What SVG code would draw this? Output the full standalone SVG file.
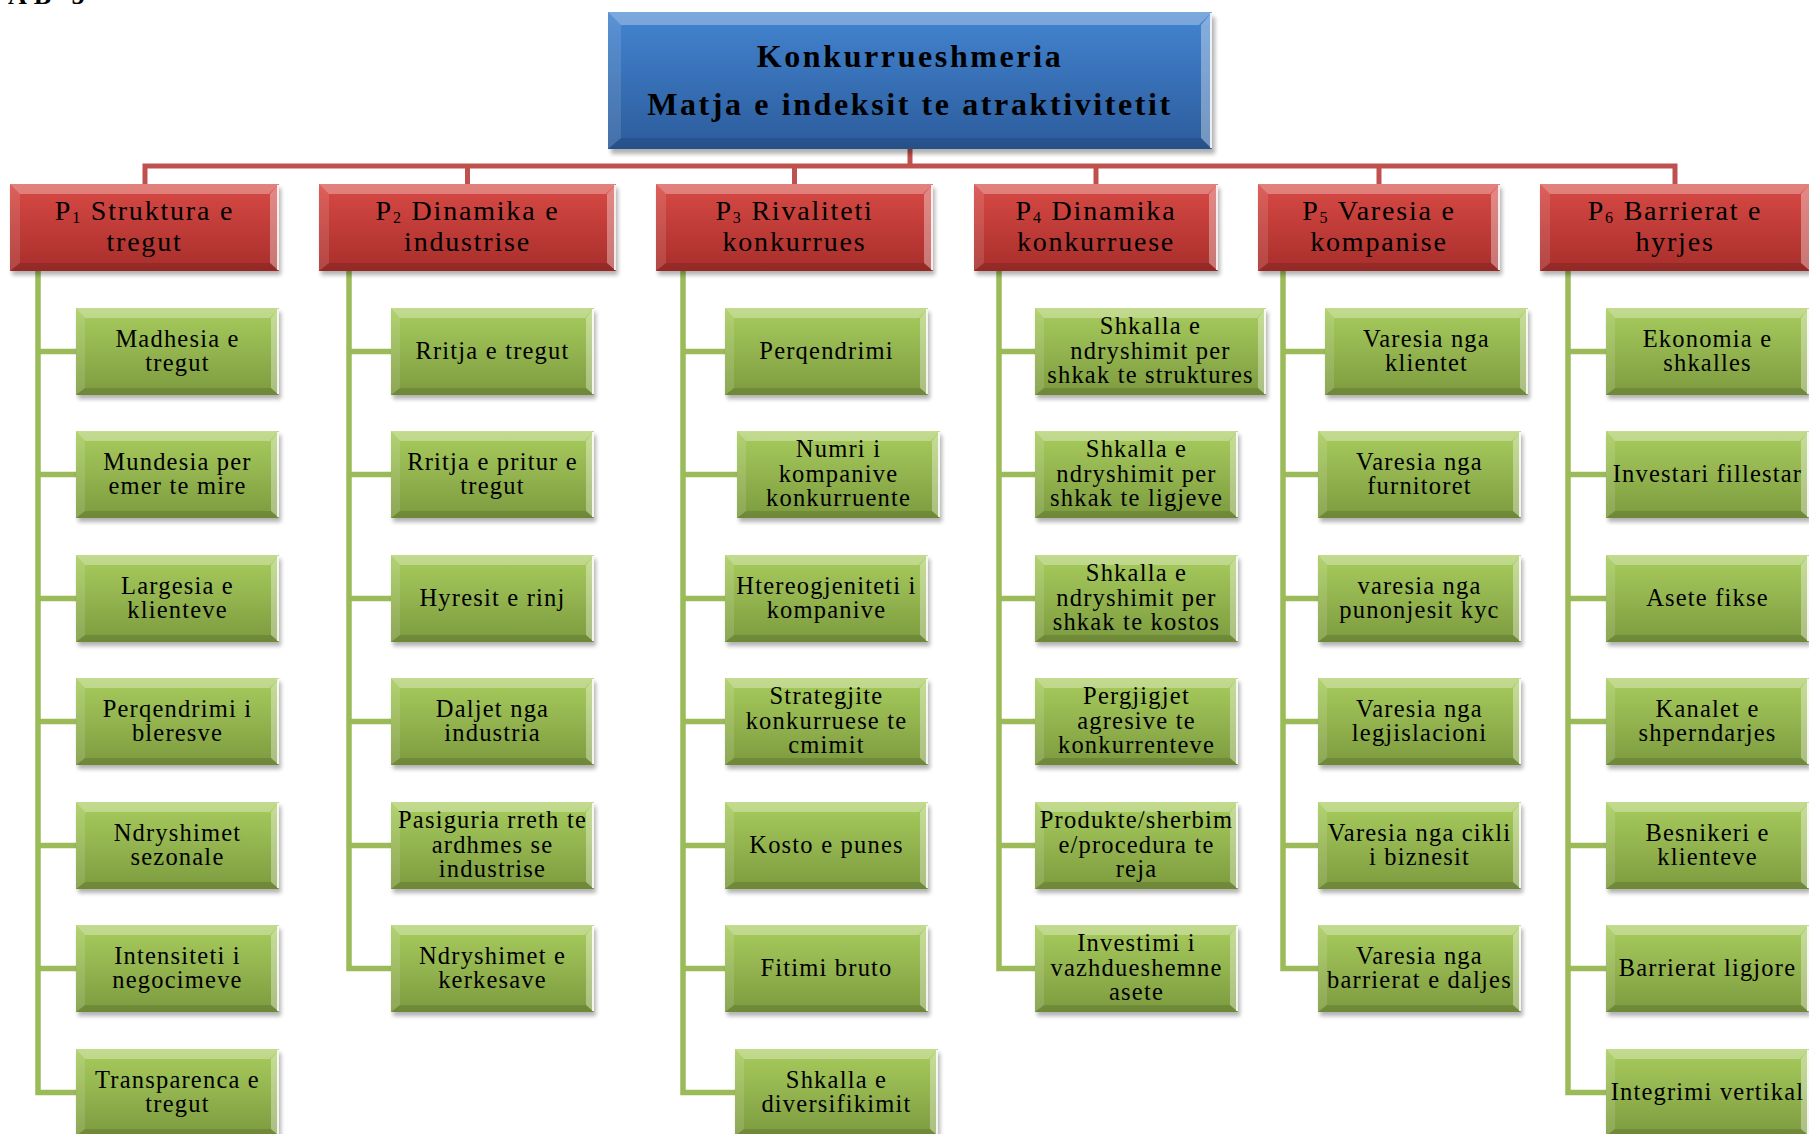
<svg xmlns="http://www.w3.org/2000/svg" xmlns:xlink="http://www.w3.org/1999/xlink" width="1809" height="1134" viewBox="0 0 1809 1134">
<defs>
<style>
.gt{font-family:"Liberation Serif","Times New Roman",serif;font-size:24.5px;letter-spacing:1.2px;text-anchor:middle;fill:#000}
.rt{font-family:"Liberation Serif","Times New Roman",serif;font-size:28px;letter-spacing:1.8px;text-anchor:middle;fill:#000}
.rt .sub{font-size:16px}
.root{font-family:"Liberation Serif","Times New Roman",serif;font-size:32px;font-weight:bold;letter-spacing:2.6px;text-anchor:middle;fill:#000}
.bt{fill:#fff;opacity:.3}
.bl{fill:#fff;opacity:.12}
.br{fill:#fff;opacity:.35}
.bb{fill:#000;opacity:.12}
.hl{stroke:#fff;stroke-width:2;opacity:.85}
.shd{fill:#000;opacity:.3;filter:url(#blur)}
.red{fill:none;stroke:#c0504d;stroke-width:5}
.grn{fill:none;stroke:#9bbb59;stroke-width:5.5}
</style>
<filter id="blur" x="-10%" y="-20%" width="120%" height="140%"><feGaussianBlur stdDeviation="2"/></filter>
<linearGradient id="gG" x1="0" y1="0" x2="0" y2="1"><stop offset="0" stop-color="#a8cc5e"/><stop offset="1" stop-color="#7d9b3f"/></linearGradient>
<linearGradient id="gR" x1="0" y1="0" x2="0" y2="1"><stop offset="0" stop-color="#d84a45"/><stop offset="1" stop-color="#a82e2b"/></linearGradient>
<linearGradient id="gB" x1="0" y1="0" x2="0" y2="1"><stop offset="0" stop-color="#4384d0"/><stop offset="1" stop-color="#2c5c9c"/></linearGradient>
<g id="gb">
<rect class="shd" x="2" y="4" width="203" height="87"/>
<rect x="0" y="0" width="203" height="87" fill="url(#gG)"/>
<polygon class="bt" points="0,0 203,0 194,10 9,10"/>
<polygon class="bl" points="0,0 9,10 9,80 0,87"/>
<polygon class="br" points="203,0 203,87 195,80 195,10"/>
<polygon class="bb" points="0,87 9,80 195,80 203,87"/>
<line class="hl" x1="202" y1="1" x2="202" y2="86"/>
</g>
<g id="gbw">
<rect class="shd" x="2" y="4" width="231" height="87"/>
<rect x="0" y="0" width="231" height="87" fill="url(#gG)"/>
<polygon class="bt" points="0,0 231,0 222,10 9,10"/>
<polygon class="bl" points="0,0 9,10 9,80 0,87"/>
<polygon class="br" points="231,0 231,87 223,80 223,10"/>
<polygon class="bb" points="0,87 9,80 223,80 231,87"/>
<line class="hl" x1="230" y1="1" x2="230" y2="86"/>
</g>
</defs>
<rect x="0" y="0" width="1809" height="1134" fill="#fff"/>
<text x="8" y="4" style="font-family:'Liberation Serif',serif;font-size:26px;font-weight:bold;letter-spacing:7px">AB 5</text>

<g id="connectors">
<path class="red" d="M910 149 V166"/>
<path class="red" d="M145 184 V166 H1675 V184"/>
<path class="red" d="M467.5 166 V184 M794.5 166 V184 M1096 166 V184 M1379 166 V184"/>
<path class="grn" d="M38 271 V1092.5 H76 M38 351.5 H76 M38 474.5 H76 M38 598.5 H76 M38 721.5 H76 M38 845.5 H76 M38 968.5 H76"/>
<path class="grn" d="M349 271 V968.5 H391 M349 351.5 H391 M349 474.5 H391 M349 598.5 H391 M349 721.5 H391 M349 845.5 H391"/>
<path class="grn" d="M683 271 V1092.5 H735 M683 351.5 H725 M683 474.5 H737 M683 598.5 H725 M683 721.5 H725 M683 845.5 H725 M683 968.5 H725"/>
<path class="grn" d="M999 271 V968.5 H1035 M999 351.5 H1035 M999 474.5 H1035 M999 598.5 H1035 M999 721.5 H1035 M999 845.5 H1035"/>
<path class="grn" d="M1283 271 V968.5 H1318 M1283 351.5 H1325 M1283 474.5 H1318 M1283 598.5 H1318 M1283 721.5 H1318 M1283 845.5 H1318"/>
<path class="grn" d="M1568 271 V1092.5 H1606 M1568 351.5 H1606 M1568 474.5 H1606 M1568 598.5 H1606 M1568 721.5 H1606 M1568 845.5 H1606 M1568 968.5 H1606"/>
</g>

<g id="root" transform="translate(608 12)">
<rect class="shd" x="3" y="5" width="604" height="137"/>
<rect x="0" y="0" width="604" height="137" fill="url(#gB)"/>
<polygon class="bt" points="0,0 604,0 591,13 13,13"/>
<polygon class="bl" points="0,0 13,13 13,126 0,137"/>
<polygon class="br" points="604,0 604,137 593,126 593,13"/>
<polygon class="bb" points="0,137 13,126 593,126 604,137"/>
<line class="hl" x1="603" y1="1" x2="603" y2="136"/>
<text class="root" x="302" y="55">Konkurrueshmeria</text>
<text class="root" x="302" y="103">Matja e indeksit te atraktivitetit</text>
</g>

<g id="p1" transform="translate(10 184)">
<rect class="shd" x="2" y="4" width="269" height="87"/>
<rect x="0" y="0" width="269" height="87" fill="url(#gR)"/>
<polygon class="bt" points="0,0 269,0 259,10 10,10"/>
<polygon class="bl" points="0,0 10,10 10,79 0,87"/>
<polygon class="br" points="269,0 269,87 260,79 260,10"/>
<polygon class="bb" points="0,87 10,79 260,79 269,87"/>
<line class="hl" x1="268" y1="1" x2="268" y2="86"/>
<text class="rt" x="134.5" y="36">P<tspan class="sub" baseline-shift="-3">1</tspan> Struktura e</text>
<text class="rt" x="134.5" y="67">tregut</text>
</g>
<g id="p2" transform="translate(319 184)">
<rect class="shd" x="2" y="4" width="297" height="87"/>
<rect x="0" y="0" width="297" height="87" fill="url(#gR)"/>
<polygon class="bt" points="0,0 297,0 287,10 10,10"/>
<polygon class="bl" points="0,0 10,10 10,79 0,87"/>
<polygon class="br" points="297,0 297,87 288,79 288,10"/>
<polygon class="bb" points="0,87 10,79 288,79 297,87"/>
<line class="hl" x1="296" y1="1" x2="296" y2="86"/>
<text class="rt" x="148.5" y="36">P<tspan class="sub" baseline-shift="-3">2</tspan> Dinamika e</text>
<text class="rt" x="148.5" y="67">industrise</text>
</g>
<g id="p3" transform="translate(656 184)">
<rect class="shd" x="2" y="4" width="277" height="87"/>
<rect x="0" y="0" width="277" height="87" fill="url(#gR)"/>
<polygon class="bt" points="0,0 277,0 267,10 10,10"/>
<polygon class="bl" points="0,0 10,10 10,79 0,87"/>
<polygon class="br" points="277,0 277,87 268,79 268,10"/>
<polygon class="bb" points="0,87 10,79 268,79 277,87"/>
<line class="hl" x1="276" y1="1" x2="276" y2="86"/>
<text class="rt" x="138.5" y="36">P<tspan class="sub" baseline-shift="-3">3</tspan> Rivaliteti</text>
<text class="rt" x="138.5" y="67">konkurrues</text>
</g>
<g id="p4" transform="translate(974 184)">
<rect class="shd" x="2" y="4" width="244" height="87"/>
<rect x="0" y="0" width="244" height="87" fill="url(#gR)"/>
<polygon class="bt" points="0,0 244,0 234,10 10,10"/>
<polygon class="bl" points="0,0 10,10 10,79 0,87"/>
<polygon class="br" points="244,0 244,87 235,79 235,10"/>
<polygon class="bb" points="0,87 10,79 235,79 244,87"/>
<line class="hl" x1="243" y1="1" x2="243" y2="86"/>
<text class="rt" x="122" y="36">P<tspan class="sub" baseline-shift="-3">4</tspan> Dinamika</text>
<text class="rt" x="122" y="67">konkurruese</text>
</g>
<g id="p5" transform="translate(1258 184)">
<rect class="shd" x="2" y="4" width="242" height="87"/>
<rect x="0" y="0" width="242" height="87" fill="url(#gR)"/>
<polygon class="bt" points="0,0 242,0 232,10 10,10"/>
<polygon class="bl" points="0,0 10,10 10,79 0,87"/>
<polygon class="br" points="242,0 242,87 233,79 233,10"/>
<polygon class="bb" points="0,87 10,79 233,79 242,87"/>
<line class="hl" x1="241" y1="1" x2="241" y2="86"/>
<text class="rt" x="121" y="36">P<tspan class="sub" baseline-shift="-3">5</tspan> Varesia e</text>
<text class="rt" x="121" y="67">kompanise</text>
</g>
<g id="p6" transform="translate(1540 184)">
<rect class="shd" x="2" y="4" width="270" height="87"/>
<rect x="0" y="0" width="270" height="87" fill="url(#gR)"/>
<polygon class="bt" points="0,0 270,0 260,10 10,10"/>
<polygon class="bl" points="0,0 10,10 10,79 0,87"/>
<polygon class="br" points="270,0 270,87 261,79 261,10"/>
<polygon class="bb" points="0,87 10,79 261,79 270,87"/>
<text class="rt" x="135" y="36">P<tspan class="sub" baseline-shift="-3">6</tspan> Barrierat e</text>
<text class="rt" x="135" y="67">hyrjes</text>
</g>

<!-- P1 children -->
<g id="p1-1"><use xlink:href="#gb" x="76" y="308"/><text class="gt" x="177.5" y="346.5">Madhesia e<tspan x="177.5" dy="24.5">tregut</tspan></text></g>
<g id="p1-2"><use xlink:href="#gb" x="76" y="431"/><text class="gt" x="177.5" y="469.5">Mundesia per<tspan x="177.5" dy="24.5">emer te mire</tspan></text></g>
<g id="p1-3"><use xlink:href="#gb" x="76" y="555"/><text class="gt" x="177.5" y="593.5">Largesia e<tspan x="177.5" dy="24.5">klienteve</tspan></text></g>
<g id="p1-4"><use xlink:href="#gb" x="76" y="678"/><text class="gt" x="177.5" y="716.5">Perqendrimi i<tspan x="177.5" dy="24.5">bleresve</tspan></text></g>
<g id="p1-5"><use xlink:href="#gb" x="76" y="802"/><text class="gt" x="177.5" y="840.5">Ndryshimet<tspan x="177.5" dy="24.5">sezonale</tspan></text></g>
<g id="p1-6"><use xlink:href="#gb" x="76" y="925"/><text class="gt" x="177.5" y="963.5">Intensiteti i<tspan x="177.5" dy="24.5">negocimeve</tspan></text></g>
<g id="p1-7"><use xlink:href="#gb" x="76" y="1049"/><text class="gt" x="177.5" y="1087.5">Transparenca e<tspan x="177.5" dy="24.5">tregut</tspan></text></g>

<!-- P2 children -->
<g id="p2-1"><use xlink:href="#gb" x="391" y="308"/><text class="gt" x="492.5" y="358.5">Rritja e tregut</text></g>
<g id="p2-2"><use xlink:href="#gb" x="391" y="431"/><text class="gt" x="492.5" y="469.5">Rritja e pritur e<tspan x="492.5" dy="24.5">tregut</tspan></text></g>
<g id="p2-3"><use xlink:href="#gb" x="391" y="555"/><text class="gt" x="492.5" y="605.5">Hyresit e rinj</text></g>
<g id="p2-4"><use xlink:href="#gb" x="391" y="678"/><text class="gt" x="492.5" y="716.5">Daljet nga<tspan x="492.5" dy="24.5">industria</tspan></text></g>
<g id="p2-5"><use xlink:href="#gb" x="391" y="802"/><text class="gt" x="492.5" y="828">Pasiguria rreth te<tspan x="492.5" dy="24.5">ardhmes se</tspan><tspan x="492.5" dy="24.5">industrise</tspan></text></g>
<g id="p2-6"><use xlink:href="#gb" x="391" y="925"/><text class="gt" x="492.5" y="963.5">Ndryshimet e<tspan x="492.5" dy="24.5">kerkesave</tspan></text></g>

<!-- P3 children -->
<g id="p3-1"><use xlink:href="#gb" x="725" y="308"/><text class="gt" x="826.5" y="358.5">Perqendrimi</text></g>
<g id="p3-2"><use xlink:href="#gb" x="737" y="431"/><text class="gt" x="838.5" y="457">Numri i<tspan x="838.5" dy="24.5">kompanive</tspan><tspan x="838.5" dy="24.5">konkurruente</tspan></text></g>
<g id="p3-3"><use xlink:href="#gb" x="725" y="555"/><text class="gt" x="826.5" y="593.5">Htereogjeniteti i<tspan x="826.5" dy="24.5">kompanive</tspan></text></g>
<g id="p3-4"><use xlink:href="#gb" x="725" y="678"/><text class="gt" x="826.5" y="704">Strategjite<tspan x="826.5" dy="24.5">konkurruese te</tspan><tspan x="826.5" dy="24.5">cmimit</tspan></text></g>
<g id="p3-5"><use xlink:href="#gb" x="725" y="802"/><text class="gt" x="826.5" y="852.5">Kosto e punes</text></g>
<g id="p3-6"><use xlink:href="#gb" x="725" y="925"/><text class="gt" x="826.5" y="975.5">Fitimi bruto</text></g>
<g id="p3-7"><use xlink:href="#gb" x="735" y="1049"/><text class="gt" x="836.5" y="1087.5">Shkalla e<tspan x="836.5" dy="24.5">diversifikimit</tspan></text></g>

<!-- P4 children -->
<g id="p4-1"><use xlink:href="#gbw" x="1035" y="308"/><text class="gt" x="1150.5" y="334">Shkalla e<tspan x="1150.5" dy="24.5">ndryshimit  per</tspan><tspan x="1150.5" dy="24.5">shkak te struktures</tspan></text></g>
<g id="p4-2"><use xlink:href="#gb" x="1035" y="431"/><text class="gt" x="1136.5" y="457">Shkalla e<tspan x="1136.5" dy="24.5">ndryshimit per</tspan><tspan x="1136.5" dy="24.5">shkak te ligjeve</tspan></text></g>
<g id="p4-3"><use xlink:href="#gb" x="1035" y="555"/><text class="gt" x="1136.5" y="581">Shkalla e<tspan x="1136.5" dy="24.5">ndryshimit per</tspan><tspan x="1136.5" dy="24.5">shkak te kostos</tspan></text></g>
<g id="p4-4"><use xlink:href="#gb" x="1035" y="678"/><text class="gt" x="1136.5" y="704">Pergjigjet<tspan x="1136.5" dy="24.5">agresive te</tspan><tspan x="1136.5" dy="24.5">konkurrenteve</tspan></text></g>
<g id="p4-5"><use xlink:href="#gb" x="1035" y="802"/><text class="gt" x="1136.5" y="828">Produkte/sherbim<tspan x="1136.5" dy="24.5">e/procedura te</tspan><tspan x="1136.5" dy="24.5">reja</tspan></text></g>
<g id="p4-6"><use xlink:href="#gb" x="1035" y="925"/><text class="gt" x="1136.5" y="951">Investimi i<tspan x="1136.5" dy="24.5">vazhdueshemne</tspan><tspan x="1136.5" dy="24.5">asete</tspan></text></g>

<!-- P5 children -->
<g id="p5-1"><use xlink:href="#gb" x="1325" y="308"/><text class="gt" x="1426.5" y="346.5">Varesia nga<tspan x="1426.5" dy="24.5">klientet</tspan></text></g>
<g id="p5-2"><use xlink:href="#gb" x="1318" y="431"/><text class="gt" x="1419.5" y="469.5">Varesia nga<tspan x="1419.5" dy="24.5">furnitoret</tspan></text></g>
<g id="p5-3"><use xlink:href="#gb" x="1318" y="555"/><text class="gt" x="1419.5" y="593.5">varesia nga<tspan x="1419.5" dy="24.5">punonjesit kyc</tspan></text></g>
<g id="p5-4"><use xlink:href="#gb" x="1318" y="678"/><text class="gt" x="1419.5" y="716.5">Varesia nga<tspan x="1419.5" dy="24.5">legjislacioni</tspan></text></g>
<g id="p5-5"><use xlink:href="#gb" x="1318" y="802"/><text class="gt" x="1419.5" y="840.5">Varesia nga cikli<tspan x="1419.5" dy="24.5">i biznesit</tspan></text></g>
<g id="p5-6"><use xlink:href="#gb" x="1318" y="925"/><text class="gt" x="1419.5" y="963.5">Varesia  nga<tspan x="1419.5" dy="24.5">barrierat e daljes</tspan></text></g>

<!-- P6 children -->
<g id="p6-1"><use xlink:href="#gb" x="1606" y="308"/><text class="gt" x="1707.5" y="346.5">Ekonomia e<tspan x="1707.5" dy="24.5">shkalles</tspan></text></g>
<g id="p6-2"><use xlink:href="#gb" x="1606" y="431"/><text class="gt" x="1707.5" y="481.5">Investari fillestar</text></g>
<g id="p6-3"><use xlink:href="#gb" x="1606" y="555"/><text class="gt" x="1707.5" y="605.5">Asete fikse</text></g>
<g id="p6-4"><use xlink:href="#gb" x="1606" y="678"/><text class="gt" x="1707.5" y="716.5">Kanalet e<tspan x="1707.5" dy="24.5">shperndarjes</tspan></text></g>
<g id="p6-5"><use xlink:href="#gb" x="1606" y="802"/><text class="gt" x="1707.5" y="840.5">Besnikeri e<tspan x="1707.5" dy="24.5">klienteve</tspan></text></g>
<g id="p6-6"><use xlink:href="#gb" x="1606" y="925"/><text class="gt" x="1707.5" y="975.5">Barrierat ligjore</text></g>
<g id="p6-7"><use xlink:href="#gb" x="1606" y="1049"/><text class="gt" x="1707.5" y="1099.5">Integrimi vertikal</text></g>
</svg>
